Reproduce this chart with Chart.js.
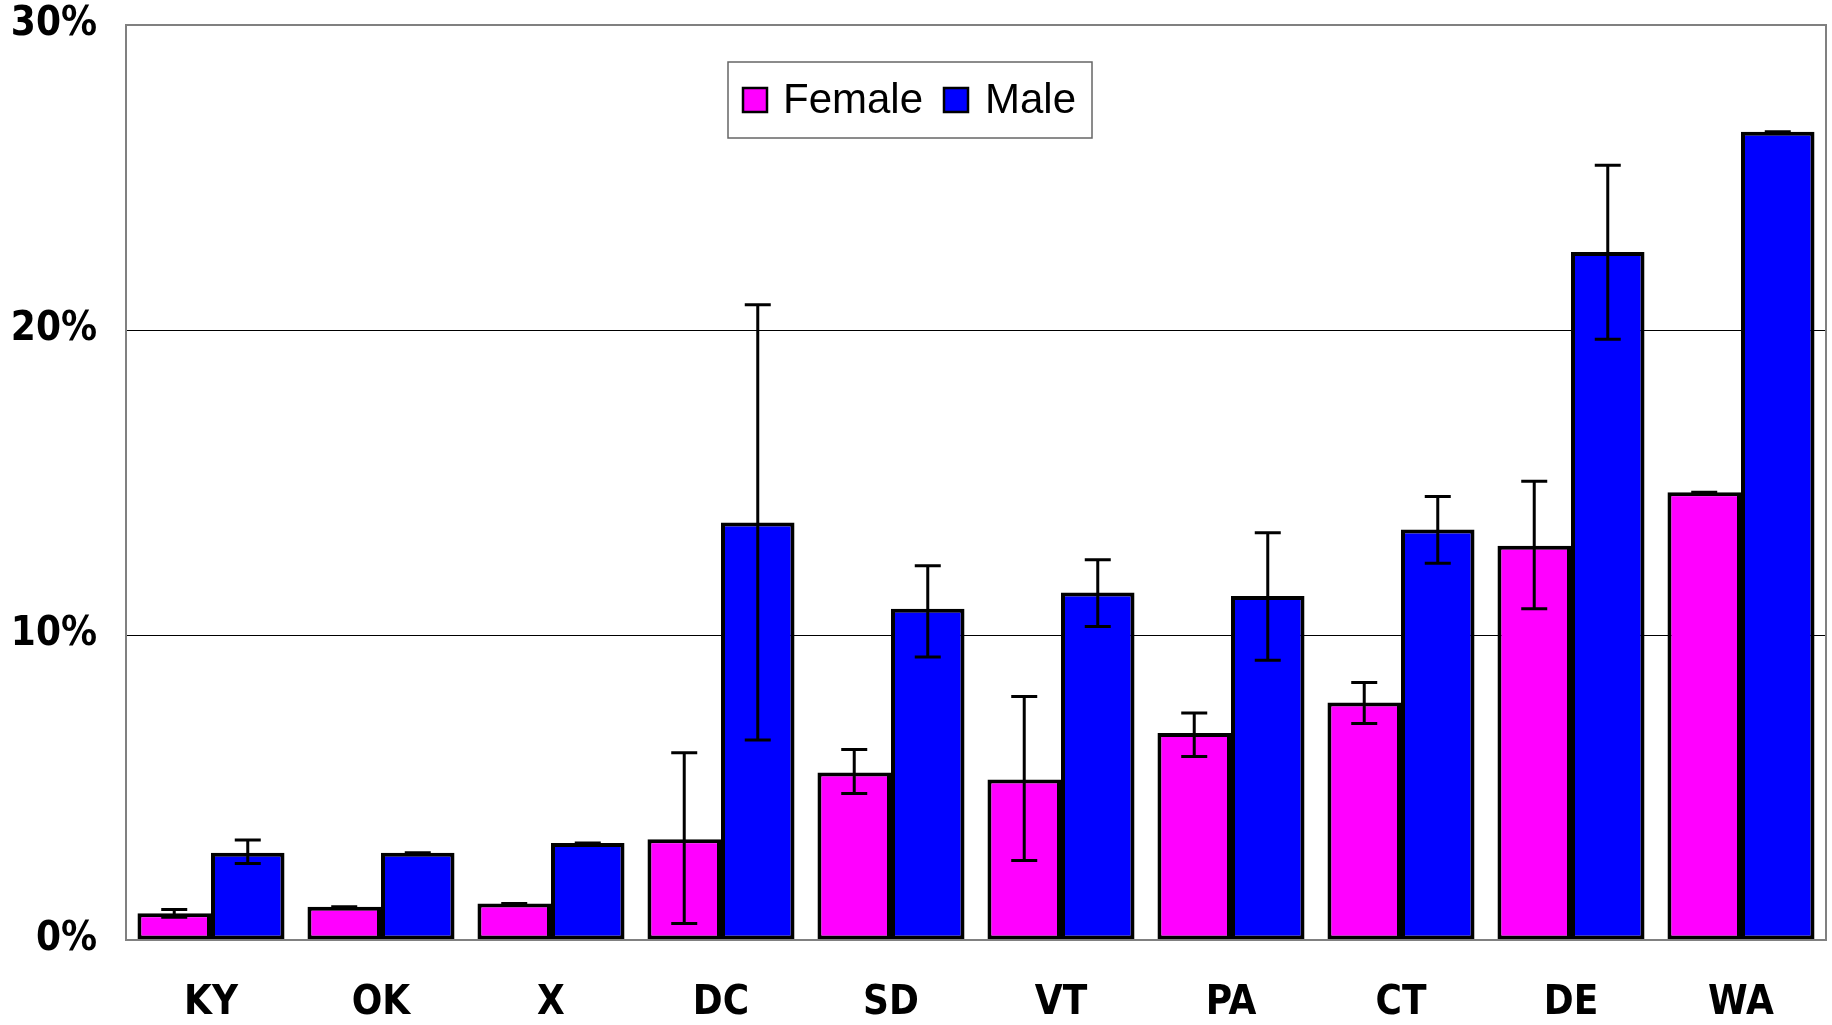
<!DOCTYPE html>
<html>
<head>
<meta charset="utf-8">
<script src="https://cdn.jsdelivr.net/npm/chart.js@4/dist/chart.umd.min.js"></script>
<style>
  html, body { margin: 0; padding: 0; background: #fff; }
  #wrap { width: 1832px; height: 1025px; position: relative; }
</style>
</head>
<body>
<div id="wrap"><canvas id="chart"></canvas></div>
<script>
// ----- data -----
const states     = ['KY', 'OK', 'X', 'DC', 'SD', 'VT', 'PA', 'CT', 'DE', 'WA'];
const femaleVals = [0.88, 1.09, 1.20, 3.30, 5.49, 5.26, 6.79, 7.79, 12.93, 14.68];
const femaleLow  = [0.75, 1.09, 1.20, 0.54, 4.80, 2.61, 6.02, 7.10, 10.86, 14.68];
const femaleHigh = [1.00, 1.09, 1.20, 6.14, 6.25, 7.98, 7.44, 8.44, 15.04, 14.68];
const maleVals   = [2.86, 2.86, 3.18, 13.69, 10.86, 11.39, 11.28, 13.46, 22.56, 26.50];
const maleLow    = [2.51, 2.86, 3.18, 6.56, 9.28, 10.28, 9.17, 12.35, 19.70, 26.50];
const maleHigh   = [3.28, 2.86, 3.18, 20.83, 12.27, 12.47, 13.35, 14.54, 25.40, 26.50];
const yTicks     = [0, 10, 20, 30];

const FEMALE = '#FF00FF';
const MALE   = '#0000FF';
const tickFont = { family: '"Liberation Sans Narrow", "DejaVu Sans Condensed", "Liberation Sans", Arial, sans-serif', size: 40, weight: 'bold' };

// ----- plugins -----
// frame round plot area
const framePlugin = {
  id: 'frame',
  afterDraw(chart) {
    const { ctx, chartArea: a } = chart;
    ctx.save();
    ctx.strokeStyle = '#808080';
    ctx.lineWidth = 2;
    ctx.strokeRect(a.left, a.top, a.right - a.left, a.bottom - a.top);
    ctx.restore();
  }
};

// error bars drawn from low/high arrays via the y scale
const errorBarPlugin = {
  id: 'errorBars',
  afterDatasetsDraw(chart) {
    const { ctx } = chart;
    const y = chart.scales.y;
    ctx.save();
    ctx.strokeStyle = '#000';
    ctx.lineWidth = 3;
    chart.data.datasets.forEach((ds, i) => {
      const meta = chart.getDatasetMeta(i);
      meta.data.forEach((bar, j) => {
        const lo = y.getPixelForValue(ds.errLow[j]);
        const hi = y.getPixelForValue(ds.errHigh[j]);
        const x = bar.x, cap = 13;
        ctx.beginPath();
        ctx.moveTo(x, lo); ctx.lineTo(x, hi);
        ctx.moveTo(x - cap, hi); ctx.lineTo(x + cap, hi);
        ctx.moveTo(x - cap, lo); ctx.lineTo(x + cap, lo);
        ctx.stroke();
      });
    });
    ctx.restore();
  }
};

// legend box inside the plot
const boxLegend = {
  id: 'boxLegend',
  afterDraw(chart) {
    const { ctx } = chart;
    ctx.save();
    ctx.fillStyle = '#fff';
    ctx.fillRect(728, 62, 364, 76);
    ctx.strokeStyle = '#666';
    ctx.lineWidth = 1.5;
    ctx.strokeRect(728, 62, 364, 76);
    const items = [{ sx: 743, tx: 783 }, { sx: 944, tx: 985 }];
    ctx.font = '42px "Liberation Sans", Arial, sans-serif';
    ctx.textBaseline = 'middle';
    chart.data.datasets.forEach((ds, i) => {
      const it = items[i];
      ctx.fillStyle = ds.backgroundColor;
      ctx.fillRect(it.sx, 88, 24, 24);
      ctx.strokeStyle = '#000';
      ctx.lineWidth = 2.5;
      ctx.strokeRect(it.sx, 88, 24, 24);
      ctx.fillStyle = '#000';
      ctx.fillText(ds.label, it.tx, 101);
    });
    ctx.restore();
  }
};

new Chart(document.getElementById('chart'), {
  type: 'bar',
  data: {
    labels: states,
    datasets: [
      { label: 'Female', data: femaleVals, errLow: femaleLow, errHigh: femaleHigh,
        backgroundColor: FEMALE, borderColor: '#000', borderWidth: 4, borderSkipped: false },
      { label: 'Male', data: maleVals, errLow: maleLow, errHigh: maleHigh,
        backgroundColor: MALE, borderColor: '#000', borderWidth: 4, borderSkipped: false }
    ]
  },
  options: {
    responsive: true,
    maintainAspectRatio: false,
    animation: false,
    layout: { padding: { top: 25, right: 6, left: 0, bottom: 0 } },
    datasets: { bar: { categoryPercentage: 0.865, barPercentage: 1 } },
    plugins: { legend: { display: false }, tooltip: { enabled: false } },
    scales: {
      x: {
        grid: { display: false, drawTicks: false },
        border: { display: false },
        ticks: { color: '#000', font: tickFont, padding: 40, maxRotation: 0 },
        afterFit(s) { s.height = 85; s.paddingLeft = 0; s.paddingRight = 0; }
      },
      y: {
        min: 0, max: 30,
        afterBuildTicks(s) { s.ticks = yTicks.map(v => ({ value: v })); },
        grid: {
          drawTicks: false,
          color: (c) => (c.tick && (c.tick.value === 10 || c.tick.value === 20)) ? '#000' : 'rgba(0,0,0,0)',
          lineWidth: 1
        },
        border: { display: false },
        ticks: { color: '#000', font: tickFont, padding: 29, callback: (v) => v + '%' },
        afterFit(s) { s.width = 126; s.paddingTop = 0; s.paddingBottom = 0; }
      }
    }
  },
  plugins: [framePlugin, errorBarPlugin, boxLegend]
});
</script>
</body>
</html>
